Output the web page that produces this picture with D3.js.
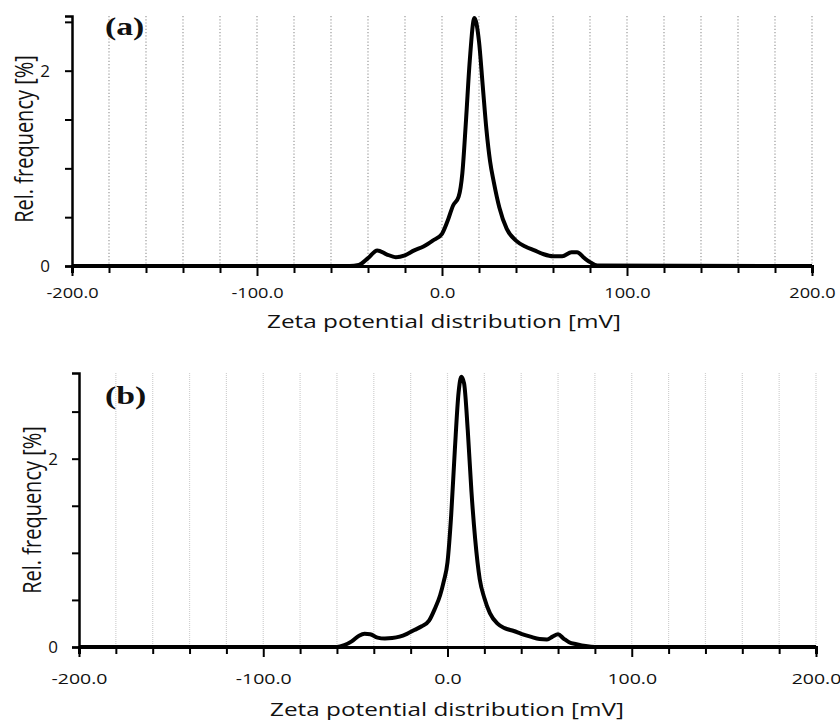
<!DOCTYPE html>
<html>
<head>
<meta charset="utf-8">
<script src="https://cdn.jsdelivr.net/npm/d3@7"></script>
<style>
body { margin: 0; background: #fff; }
svg { display: block; }
text { font-family: "Open Sans", sans-serif; fill: #111; }
</style>
</head>
<body>
<svg id="chart" width="840" height="725"></svg>
<script>
// panel (a): zeta potential [mV] vs rel. frequency [%]
var zetaA = [-200, -50, -45, -40, -35, -30, -25, -20, -15, -10, -5, 0, 3, 6, 9, 11, 13, 15, 17.5, 20, 22, 24, 26, 28, 31, 35, 40, 45, 50, 55, 60, 65, 70, 73, 77, 80, 84, 200];
var freqA = [0, 0, 0.01, 0.08, 0.16, 0.12, 0.09, 0.11, 0.16, 0.2, 0.26, 0.33, 0.46, 0.62, 0.71, 0.95, 1.5, 2.1, 2.54, 2.3, 1.85, 1.4, 1.07, 0.86, 0.6, 0.38, 0.26, 0.2, 0.16, 0.12, 0.1, 0.1, 0.14, 0.14, 0.08, 0.04, 0.005, 0];

// panel (b)
var zetaB = [-200, -60, -56, -52, -48, -45, -42, -38, -34, -30, -26, -22, -18, -14, -10, -7, -4, -2, 0, 2, 4, 6, 7.5, 9, 11, 13, 15, 17.5, 20, 23, 27, 31, 36, 40, 45, 50, 54, 57, 60, 63, 66, 70, 75, 80, 200];
var freqB = [0, 0, 0.02, 0.06, 0.12, 0.14, 0.135, 0.1, 0.09, 0.095, 0.11, 0.14, 0.18, 0.22, 0.28, 0.4, 0.55, 0.7, 0.9, 1.4, 2.1, 2.7, 2.87, 2.8, 2.3, 1.65, 1.15, 0.72, 0.52, 0.36, 0.25, 0.2, 0.17, 0.14, 0.11, 0.085, 0.08, 0.11, 0.135, 0.09, 0.05, 0.03, 0.01, 0, 0];

var xTicks  = [-200, -180, -160, -140, -120, -100, -80, -60, -40, -20, 0, 20, 40, 60, 80, 100, 120, 140, 160, 180, 200];
var xLabels = [-200, -100, 0, 100, 200];
var yTicks  = [0, 0.5, 1, 1.5, 2, 2.5];
var yLabels = [0, 2];
var xTitle = "Zeta potential distribution [mV]";
var yTitle = "Rel. frequency [%]";

var svg = d3.select("#chart");

function draw_panel(p)
{
        var x = d3.scaleLinear().domain([-200, 200]).range([p.left, p.right]);
        var y = d3.scaleLinear().domain([0, p.yMax]).range([p.zero, p.top]);

        var g = svg.append("g");

        /* dotted grid */
        g.selectAll(".grid")
                .data(xTicks.filter(function(d) { return d > -200; }))
                .enter().append("line")
                .attr("x1", function(d) { return x(d); })
                .attr("x2", function(d) { return x(d); })
                .attr("y1", p.top)
                .attr("y2", p.zero)
                .attr("stroke", p.gridColor)
                .attr("stroke-width", 1.2)
                .attr("stroke-dasharray", p.gridDash);

        var xAxis = d3.axisBottom(x)
                .tickValues(xTicks)
                .tickSize(7)
                .tickPadding(p.xPad)
                .tickFormat(function(d) {
                        return xLabels.indexOf(d) >= 0 ? d3.format(".1f")(d).replace("\u2212", "-") : "";
                });

        var gx = g.append("g")
                .attr("transform", "translate(0," + p.zero + ")")
                .call(xAxis);
        gx.select(".domain").attr("stroke", "#000").attr("stroke-width", 3);
        gx.selectAll(".tick line").attr("stroke", "#000").attr("stroke-width", 2)
                .attr("y2", function(d) { return xLabels.indexOf(d) >= 0 ? 10 : 7; });
        gx.selectAll(".tick text")
                .style("font-size", p.xFont + "px")
                .attr("fill", "#111")
                .attr("transform", "scale(1.3,1)");

        var yAxis = d3.axisLeft(y)
                .tickValues(yTicks)
                .tickSize(7)
                .tickPadding(p.yPad)
                .tickFormat(function(d) { return yLabels.indexOf(d) >= 0 ? d : ""; });

        var gy = g.append("g")
                .attr("transform", "translate(" + p.left + ",0)")
                .call(yAxis);
        gy.select(".domain").attr("stroke", "#000").attr("stroke-width", 2.5);
        gy.selectAll(".tick line").attr("stroke", "#000").attr("stroke-width", 2);
        gy.selectAll(".tick text").style("font-size", "17px").attr("fill", "#111");

        var line = d3.line()
                .x(function(d) { return x(d[0]); })
                .y(function(d) { return y(d[1]); })
                .curve(d3.curveMonotoneX);

        g.append("path")
                .datum(d3.zip(p.zeta, p.freq))
                .attr("d", line)
                .attr("fill", "none")
                .attr("stroke", "#000")
                .attr("stroke-width", 4)
                .attr("stroke-linejoin", "round");

        g.append("text")
                .attr("transform", "translate(" + p.titleX + "," + p.titleY + ") scale(1.3,1)")
                .attr("text-anchor", "middle")
                .style("font-size", "18.7px")
                .text(xTitle);

        g.append("text")
                .attr("transform", "translate(" + p.yTitleX + "," + p.yTitleY + ") scale(1.3,1) rotate(-90)")
                .attr("text-anchor", "middle")
                .style("font-size", "20px")
                .text(yTitle);

        g.append("text")
                .attr("transform", "translate(105," + p.tagY + ") scale(1.35,1)")
                .style("font-family", "'Liberation Serif', 'Times New Roman', serif")
                .style("font-weight", "bold")
                .style("font-size", "25px")
                .attr("fill", "#000")
                .text(p.tag);
}

draw_panel({
        left: 72, right: 812, zero: 266, top: 16, yMax: 2.56,
        zeta: zetaA, freq: freqA, tag: "(a)", tagY: 35,
        xPad: 15, xFont: 14, yPad: 15, titleX: 444, titleY: 328,
        yTitleX: 33, yTitleY: 139,
        gridColor: "#999", gridDash: "1.2,2"
});

draw_panel({
        left: 79, right: 816, zero: 647, top: 373, yMax: 2.91,
        zeta: zetaB, freq: freqB, tag: "(b)", tagY: 404,
        xPad: 19, xFont: 15, yPad: 14, titleX: 447, titleY: 716,
        yTitleX: 41, yTitleY: 510,
        gridColor: "#d0d0d0", gridDash: "1,1"
});
</script>
</body>
</html>
